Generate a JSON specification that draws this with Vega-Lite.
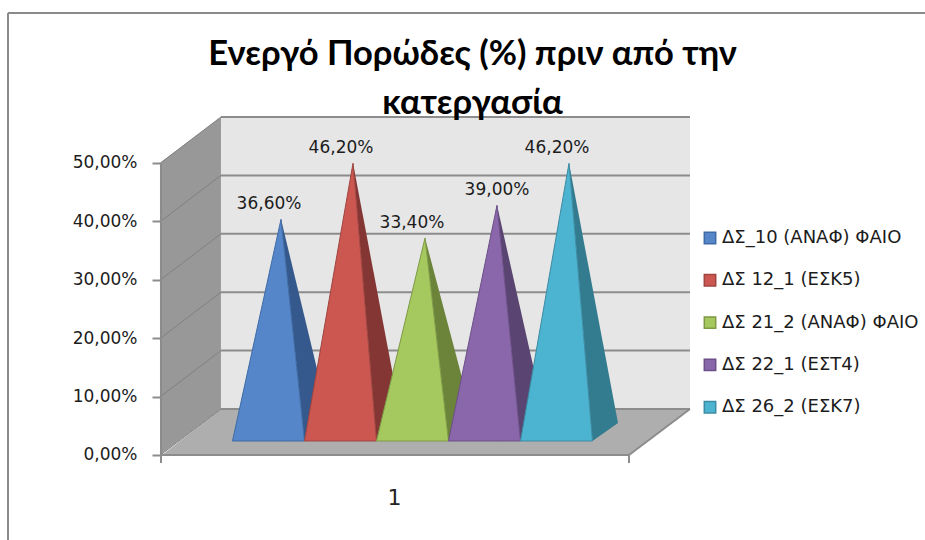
{
  "$schema": "https://vega.github.io/schema/vega-lite/v6.json",
  "width": 925,
  "height": 540,
  "padding": 0,
  "autosize": "none",
  "background": "#ffffff",
  "config": {
    "view": {"stroke": null},
    "locale": {"number": {"decimal": ",", "thousands": ".", "grouping": [3], "currency": ["", " €"]}}
  },
  "title": {
    "text": ["Ενεργό Πορώδες (%) πριν από την", "κατεργασία"],
    "font": "Lato",
    "fontSize": 34.5,
    "fontWeight": "bold",
    "color": "#000000",
    "anchor": "middle",
    "baseline": "top",
    "lineHeight": 49,
    "offset": 0,
    "dx": 10,
    "dy": 121
  },
  "datasets": {
    "frame": [
      {"x": -3.118, "x2": -3.118, "y": -0.1455, "y2": 0.7568},
      {"x": -3.118, "x2": 9.618, "y": 0.7568, "y2": 0.7568}
    ],
    "panels": [
      {"panel": "side wall", "x": -1.007, "y": 0.5, "y2": 0},
      {"panel": "side wall", "x": -0.16, "y": 0.5788, "y2": 0.0788},
      {"panel": "back wall", "x": -0.16, "y": 0.5788, "y2": 0.0788},
      {"panel": "back wall", "x": 6.354, "y": 0.5788, "y2": 0.0788},
      {"panel": "floor", "x": -0.979, "y": 0, "y2": 0},
      {"panel": "floor", "x": -0.16, "y": 0.0788, "y2": 0},
      {"panel": "floor", "x": 5.507, "y": 0.0788, "y2": 0},
      {"panel": "floor", "x": 6.354, "y": 0.0788, "y2": 0.0788}
    ],
    "sideGrid": [
      {"x": -1.0, "x2": -0.16, "y": 0.1, "y2": 0.1788},
      {"x": -1.0, "x2": -0.16, "y": 0.2, "y2": 0.2788},
      {"x": -1.0, "x2": -0.16, "y": 0.3, "y2": 0.3788},
      {"x": -1.0, "x2": -0.16, "y": 0.4, "y2": 0.4788},
      {"x": -1.0, "x2": -0.16, "y": 0.5, "y2": 0.5788},
      {"x": -1.0, "x2": -0.16, "y": 0, "y2": 0.0788}
    ],
    "backGrid": [
      {"x": -0.16, "x2": 6.354, "y": 0.0788, "y2": 0.0788},
      {"x": -0.16, "x2": 6.354, "y": 0.1788, "y2": 0.1788},
      {"x": -0.16, "x2": 6.354, "y": 0.2788, "y2": 0.2788},
      {"x": -0.16, "x2": 6.354, "y": 0.3788, "y2": 0.3788},
      {"x": -0.16, "x2": 6.354, "y": 0.4788, "y2": 0.4788},
      {"x": -0.16, "x2": 6.354, "y": 0.5788, "y2": 0.5788}
    ],
    "axisLines": [
      {"x": -0.993, "x2": -0.993, "y": 0, "y2": 0.5},
      {"x": -0.993, "x2": 5.507, "y": 0, "y2": 0},
      {"x": 5.507, "x2": 6.354, "y": 0, "y2": 0.0788},
      {"x": -0.993, "x2": -0.993, "y": 0, "y2": -0.0137},
      {"x": 5.507, "x2": 5.507, "y": 0, "y2": -0.0137}
    ],
    "sideFaces": [
      {"series": "ΔΣ_10 (ΑΝΑΦ) ΦΑΙΟ", "x": 0.674, "y": 0.366, "y2": 0.366},
      {"series": "ΔΣ_10 (ΑΝΑΦ) ΦΑΙΟ", "x": 1.0, "y": 0.1989, "y2": -0.0137},
      {"series": "ΔΣ_10 (ΑΝΑΦ) ΦΑΙΟ", "x": 1.354, "y": 0.0171, "y2": 0.0171},
      {"series": "ΔΣ 12_1 (ΕΣΚ5)", "x": 1.674, "y": 0.462, "y2": 0.462},
      {"series": "ΔΣ 12_1 (ΕΣΚ5)", "x": 2.0, "y": 0.2489, "y2": -0.0137},
      {"series": "ΔΣ 12_1 (ΕΣΚ5)", "x": 2.354, "y": 0.0171, "y2": 0.0171},
      {"series": "ΔΣ 21_2 (ΑΝΑΦ) ΦΑΙΟ", "x": 2.674, "y": 0.334, "y2": 0.334},
      {"series": "ΔΣ 21_2 (ΑΝΑΦ) ΦΑΙΟ", "x": 3.0, "y": 0.1822, "y2": -0.0137},
      {"series": "ΔΣ 21_2 (ΑΝΑΦ) ΦΑΙΟ", "x": 3.354, "y": 0.0171, "y2": 0.0171},
      {"series": "ΔΣ 22_1 (ΕΣΤ4)", "x": 3.674, "y": 0.39, "y2": 0.39},
      {"series": "ΔΣ 22_1 (ΕΣΤ4)", "x": 4.0, "y": 0.2114, "y2": -0.0137},
      {"series": "ΔΣ 22_1 (ΕΣΤ4)", "x": 4.354, "y": 0.0171, "y2": 0.0171},
      {"series": "ΔΣ 26_2 (ΕΣΚ7)", "x": 4.674, "y": 0.462, "y2": 0.462},
      {"series": "ΔΣ 26_2 (ΕΣΚ7)", "x": 5.0, "y": 0.2489, "y2": -0.0137},
      {"series": "ΔΣ 26_2 (ΕΣΚ7)", "x": 5.354, "y": 0.0171, "y2": 0.0171}
    ],
    "frontFaces": [
      {"series": "ΔΣ_10 (ΑΝΑΦ) ΦΑΙΟ", "x": 0, "y": -0.0137, "y2": -0.0137},
      {"series": "ΔΣ_10 (ΑΝΑΦ) ΦΑΙΟ", "x": 0.674, "y": 0.366, "y2": -0.0137},
      {"series": "ΔΣ_10 (ΑΝΑΦ) ΦΑΙΟ", "x": 1, "y": -0.0137, "y2": -0.0137},
      {"series": "ΔΣ 12_1 (ΕΣΚ5)", "x": 1, "y": -0.0137, "y2": -0.0137},
      {"series": "ΔΣ 12_1 (ΕΣΚ5)", "x": 1.674, "y": 0.462, "y2": -0.0137},
      {"series": "ΔΣ 12_1 (ΕΣΚ5)", "x": 2, "y": -0.0137, "y2": -0.0137},
      {"series": "ΔΣ 21_2 (ΑΝΑΦ) ΦΑΙΟ", "x": 2, "y": -0.0137, "y2": -0.0137},
      {"series": "ΔΣ 21_2 (ΑΝΑΦ) ΦΑΙΟ", "x": 2.674, "y": 0.334, "y2": -0.0137},
      {"series": "ΔΣ 21_2 (ΑΝΑΦ) ΦΑΙΟ", "x": 3, "y": -0.0137, "y2": -0.0137},
      {"series": "ΔΣ 22_1 (ΕΣΤ4)", "x": 3, "y": -0.0137, "y2": -0.0137},
      {"series": "ΔΣ 22_1 (ΕΣΤ4)", "x": 3.674, "y": 0.39, "y2": -0.0137},
      {"series": "ΔΣ 22_1 (ΕΣΤ4)", "x": 4, "y": -0.0137, "y2": -0.0137},
      {"series": "ΔΣ 26_2 (ΕΣΚ7)", "x": 4, "y": -0.0137, "y2": -0.0137},
      {"series": "ΔΣ 26_2 (ΕΣΚ7)", "x": 4.674, "y": 0.462, "y2": -0.0137},
      {"series": "ΔΣ 26_2 (ΕΣΚ7)", "x": 5, "y": -0.0137, "y2": -0.0137}
    ],
    "labels": [
      {"series": "ΔΣ_10 (ΑΝΑΦ) ΦΑΙΟ", "value": 0.366, "x": 0.507},
      {"series": "ΔΣ 12_1 (ΕΣΚ5)", "value": 0.462, "x": 1.507},
      {"series": "ΔΣ 21_2 (ΑΝΑΦ) ΦΑΙΟ", "value": 0.334, "x": 2.493},
      {"series": "ΔΣ 22_1 (ΕΣΤ4)", "value": 0.39, "x": 3.674},
      {"series": "ΔΣ 26_2 (ΕΣΚ7)", "value": 0.462, "x": 4.507}
    ]
  },
  "layer": [
    {
      "data": {"name": "frame"},
      "mark": {"type": "rule", "color": "#8a8a8a", "strokeWidth": 2},
      "encoding": {
        "x": {"field": "x", "type": "quantitative", "scale": {"domain": [-3.229, 9.618]}, "axis": {"values": [2.243], "labelExpr": "'1'", "title": null, "domain": false, "ticks": false, "grid": false, "offset": -85, "labelPadding": 32, "labelFont": "DejaVu Sans", "labelFontSize": 22, "labelColor": "#222222"}},
        "x2": {"field": "x2"},
        "y": {"field": "y", "type": "quantitative", "scale": {"domain": [-0.14555, 0.77911]}, "axis": {"values": [0, 0.1, 0.2, 0.3, 0.4, 0.5], "format": ".2%", "title": null, "domain": false, "grid": false, "offset": -160, "tickSize": 8, "tickWidth": 2, "tickColor": "#8c8c8c", "labelPadding": 15, "labelFont": "DejaVu Sans", "labelFontSize": 17, "labelColor": "#1c1c1c"}},
        "y2": {"field": "y2"}
      }
    },
    {
      "data": {"name": "panels"},
      "mark": {"type": "area"},
      "encoding": {
        "x": {"field": "x", "type": "quantitative", "scale": {"domain": [-3.229, 9.618]}},
        "y": {"field": "y", "type": "quantitative", "scale": {"domain": [-0.14555, 0.77911]}, "axis": null},
        "y2": {"field": "y2"},
        "fill": {"field": "panel", "type": "nominal", "scale": {"domain": ["side wall", "back wall", "floor"], "range": ["#989898", "#e6e6e6", "#aeaeae"]}, "legend": null}
      }
    },
    {
      "data": {"name": "sideGrid"},
      "mark": {"type": "rule", "color": "#808080", "strokeWidth": 1},
      "encoding": {
        "x": {"field": "x", "type": "quantitative", "scale": {"domain": [-3.229, 9.618]}},
        "x2": {"field": "x2"},
        "y": {"field": "y", "type": "quantitative", "scale": {"domain": [-0.14555, 0.77911]}, "axis": null},
        "y2": {"field": "y2"}
      }
    },
    {
      "data": {"name": "backGrid"},
      "mark": {"type": "rule", "color": "#8c8c8c", "strokeWidth": 2},
      "encoding": {
        "x": {"field": "x", "type": "quantitative", "scale": {"domain": [-3.229, 9.618]}},
        "x2": {"field": "x2"},
        "y": {"field": "y", "type": "quantitative", "scale": {"domain": [-0.14555, 0.77911]}, "axis": null},
        "y2": {"field": "y2"}
      }
    },
    {
      "data": {"name": "axisLines"},
      "mark": {"type": "rule", "color": "#8c8c8c", "strokeWidth": 2},
      "encoding": {
        "x": {"field": "x", "type": "quantitative", "scale": {"domain": [-3.229, 9.618]}},
        "x2": {"field": "x2"},
        "y": {"field": "y", "type": "quantitative", "scale": {"domain": [-0.14555, 0.77911]}, "axis": null},
        "y2": {"field": "y2"}
      }
    },
    {
      "data": {"name": "sideFaces"},
      "mark": {"type": "area"},
      "encoding": {
        "x": {"field": "x", "type": "quantitative", "scale": {"domain": [-3.229, 9.618]}},
        "y": {"field": "y", "type": "quantitative", "scale": {"domain": [-0.18322, 0.74144]}, "axis": null},
        "y2": {"field": "y2"},
        "fill": {"field": "series", "type": "nominal", "legend": null, "scale": {"domain": ["ΔΣ_10 (ΑΝΑΦ) ΦΑΙΟ", "ΔΣ 12_1 (ΕΣΚ5)", "ΔΣ 21_2 (ΑΝΑΦ) ΦΑΙΟ", "ΔΣ 22_1 (ΕΣΤ4)", "ΔΣ 26_2 (ΕΣΚ7)"], "range": ["#35598c", "#833634", "#6c843a", "#5a4572", "#337b8f"]}}
      }
    },
    {
      "data": {"name": "frontFaces"},
      "mark": {"type": "area", "strokeWidth": 1},
      "encoding": {
        "x": {"field": "x", "type": "quantitative", "scale": {"domain": [-3.229, 9.618]}},
        "y": {"field": "y", "type": "quantitative", "scale": {"domain": [-0.18322, 0.74144]}, "axis": null},
        "y2": {"field": "y2"},
        "fill": {
          "field": "series", "type": "nominal",
          "scale": {"domain": ["ΔΣ_10 (ΑΝΑΦ) ΦΑΙΟ", "ΔΣ 12_1 (ΕΣΚ5)", "ΔΣ 21_2 (ΑΝΑΦ) ΦΑΙΟ", "ΔΣ 22_1 (ΕΣΤ4)", "ΔΣ 26_2 (ΕΣΚ7)"], "range": ["#5486c9", "#cc5751", "#a6c95f", "#8a67ab", "#4cb3d1"]},
          "legend": {"title": null, "orient": "none", "legendX": 701, "legendY": 229, "symbolType": "square", "symbolSize": 130, "symbolStrokeWidth": 1.5, "labelFont": "DejaVu Sans", "labelFontSize": 18, "labelColor": "#1c1c1c", "labelOffset": 3, "rowPadding": 24.3, "labelLimit": 220}
        },
        "stroke": {
          "field": "series", "type": "nominal",
          "scale": {"domain": ["ΔΣ_10 (ΑΝΑΦ) ΦΑΙΟ", "ΔΣ 12_1 (ΕΣΚ5)", "ΔΣ 21_2 (ΑΝΑΦ) ΦΑΙΟ", "ΔΣ 22_1 (ΕΣΤ4)", "ΔΣ 26_2 (ΕΣΚ7)"], "range": ["#3f6ba5", "#a04440", "#7e9a45", "#6c4f88", "#3b8ba3"]},
          "legend": {"title": null, "orient": "none", "legendX": 701, "legendY": 229, "symbolType": "square", "symbolSize": 130, "symbolStrokeWidth": 1.5, "labelFont": "DejaVu Sans", "labelFontSize": 18, "labelColor": "#1c1c1c", "labelOffset": 3, "rowPadding": 24.3, "labelLimit": 220}
        }
      }
    },
    {
      "data": {"name": "labels"},
      "mark": {"type": "text", "font": "DejaVu Sans", "fontSize": 17, "color": "#1c1c1c", "baseline": "middle", "dy": -15},
      "encoding": {
        "x": {"field": "x", "type": "quantitative", "scale": {"domain": [-3.229, 9.618]}},
        "y": {"field": "value", "type": "quantitative", "scale": {"domain": [-0.18322, 0.74144]}, "axis": null},
        "text": {"field": "value", "type": "quantitative", "format": ".2%"}
      }
    }
  ],
  "resolve": {"scale": {"y": "independent", "fill": "independent", "stroke": "independent"}}
}
